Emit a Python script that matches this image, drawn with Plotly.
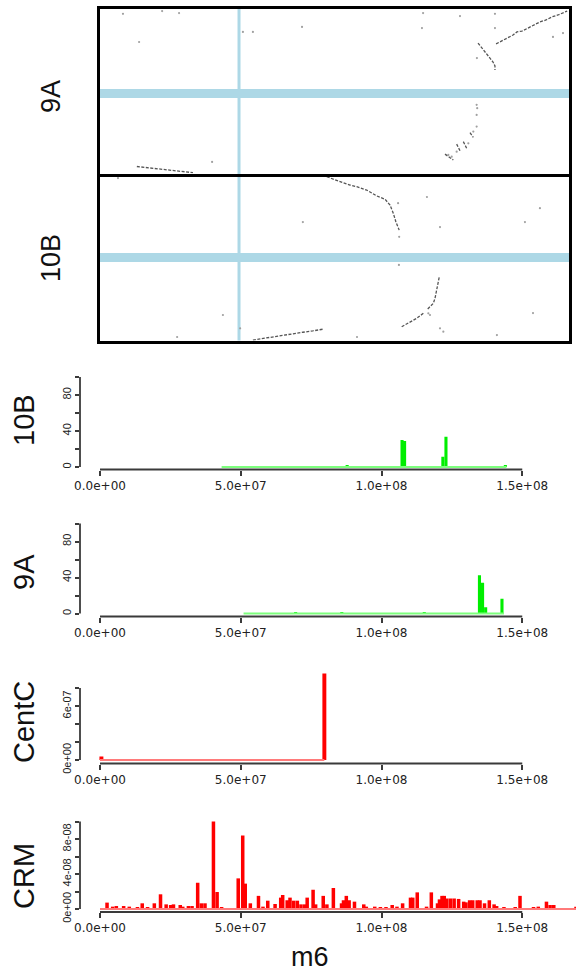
import plotly.graph_objects as go

W, H = 576, 974

# ---------------- dot plot data: m6 (x, Mb) vs 9A / 10B (y, Mb) ----------------
m6_cent_mb = 50.8
a9_cent_mb = 29.3
b10_cent_mb = 30.4

a9_seg1_x = [143.4, 145.5, 147.7, 149.5, 150.9, 152.7, 154.9, 157.1, 159.2, 161.4, 163.5, 165.7, 167.5, 169.0]
a9_seg1_y = [47.1, 48.1, 49.2, 50.3, 51.4, 51.7, 52.8, 53.9, 55.0, 55.7, 56.8, 57.5, 58.2, 58.9]
a9_seg2_x = [136.9, 138.0, 139.0, 140.1, 141.2, 142.3, 143.0, 143.0]
a9_seg2_y = [47.4, 46.0, 44.6, 43.1, 42.0, 40.6, 39.2, 37.7]
a9_seg3_x = [14.0, 16.9, 19.8, 22.7, 25.6, 28.5, 31.3, 34.2]
a9_seg3_y = [3.05, 2.7, 2.5, 2.2, 1.8, 1.4, 1.1, 0.83]
a9_strokes_x = [[125.0, 128.0], [129.2, 130.4], [131.6, 132.8], [134.0, 135.2]]
a9_strokes_y = [[7.5, 5.4], [11.1, 8.7], [12.0, 9.6], [15.2, 13.5]]
a9_dots_x = [136.4, 136.6, 136.4, 136.4, 135.2, 133.4, 129.2, 127.4, 126.2, 9.0, 23.1, 29.2, 14.8, 52.2,
             55.8, 73.5, 117.1, 116.7, 130.4, 143.0, 143.0, 136.5, 167.5, 163.9, 41.1]
a9_dots_y = [25.2, 24.0, 21.6, 17.4, 15.6, 11.4, 8.4, 6.6, 7.2, 57.9, 58.9, 58.2, 47.8, 51.4,
             51.4, 53.2, 58.2, 52.8, 57.1, 57.9, 52.8, 42.0, 51.0, 49.6, 4.7]

b10_seg1_x = [82.4, 85.4, 88.4, 90.8, 93.2, 96.8, 100.4, 103.4, 105.2, 106.4, 107.3, 108.5]
b10_seg1_y = [59.4, 58.2, 57.2, 56.4, 55.8, 54.6, 52.5, 51.3, 49.2, 46.2, 43.2, 40.2]
b10_seg2_x = [122.9, 122.6, 122.0, 121.4, 120.8, 119.6, 118.4]
b10_seg2_y = [23.2, 21.1, 18.7, 15.7, 13.9, 12.7, 11.5]
b10_seg3_x = [109.4, 111.2, 113.0, 114.8, 117.2]
b10_seg3_y = [5.5, 6.5, 7.3, 8.5, 10.3]
b10_seg4_x = [55.8, 59.4, 63.0, 66.6, 70.2, 73.8, 77.4, 81.0]
b10_seg4_y = [0.7, 1.3, 1.8, 2.4, 2.9, 3.5, 4.0, 4.6]
b10_dots_x = [108.5, 119.0, 119.6, 123.2, 124.4, 51.2, 7.2, 73.8, 118.5, 108.1, 123.2, 159.2, 153.8,
              108.4, 45.0, 28.5, 156.7, 143.7, 93.3]
b10_dots_y = [37.8, 10.3, 9.7, 4.9, 3.7, 4.9, 58.9, 43.1, 52.1, 49.9, 41.3, 48.1, 43.1,
              27.7, 9.7, 1.8, 10.4, 2.5, 1.8]

# ---------------- density tracks along m6 ----------------
x_tick_vals = [0, 5e7, 1e8, 1.5e8]
x_tick_text = ["0.0e+00", "5.0e+07", "1.0e+08", "1.5e+08"]

b10_span_mb = [43.2, 144.4]
b10_pos_mb = [87.8, 107.3, 108.2, 121.8, 122.9, 144.0]
b10_val = [1.5, 30, 29, 11.5, 33.7, 1.5]

a9_span_mb = [51.0, 143.5]
a9_pos_mb = [69.5, 85.9, 115.2, 134.8, 135.9, 137.0, 142.8]
a9_val = [1.5, 1.5, 1.5, 42.4, 34.1, 7.0, 16.3]

centc_span_mb = [0.0, 79.7]
centc_pos_mb = [0.5, 79.7]
centc_val = [4.0e-8, 9.6e-7]

crm_span_mb = [0.0, 170.0]
crm_pos_mb = [2.5, 4.5, 5.8, 8.4, 10.4, 13.3, 15.0, 16.9, 19.3, 21.5, 23.5, 25.1, 26.1, 28.5, 29.4, 31.4,
              32.7, 34.7, 36.0, 37.3, 40.3, 41.6, 43.2, 49.1, 50.7, 51.6, 53.4, 56.3, 57.9, 59.6, 62.2,
              64.2, 64.9, 66.5, 67.5, 68.8, 70.1, 71.4, 72.7, 73.6, 75.7, 76.6, 79.3, 80.6, 82.9, 85.8,
              86.5, 87.5, 88.5, 90.4, 93.7, 94.6, 97.6, 99.6, 101.6, 103.8, 105.5, 107.5, 110.3, 111.1,
              112.7, 116.0, 117.7, 119.9, 120.6, 121.5, 122.3, 123.2, 124.5, 125.8, 127.4, 129.2, 130.0,
              131.3, 132.4, 134.0, 135.0, 136.6, 138.3, 140.0, 140.9, 143.5, 147.5, 149.2, 154.0, 155.7,
              158.6, 159.9, 161.2, 169.1]
crm_val_e8 = [0.73, 0.27, 0.34, 0.34, 0.27, 0.19, 0.65, 0.19, 0.65, 1.68, 0.53, 0.46, 0.53, 0.46, 0.27, 0.34,
              0.34, 3.0, 0.65, 0.65, 10.0, 1.94, 0.19, 3.5, 8.4, 2.9, 0.65, 1.5, 0.27, 0.95, 0.57,
              1.3, 1.6, 1.0, 1.3, 0.95, 0.95, 0.53, 0.53, 1.3, 2.2, 0.53, 1.5, 0.53, 2.4, 0.65,
              1.0, 1.5, 1.0, 0.84, 0.53, 0.27, 0.27, 0.19, 0.19, 0.46, 0.27, 0.65, 1.3, 1.3,
              1.9, 0.27, 1.9, 0.65, 1.1, 1.5, 1.5, 1.2, 1.2, 1.2, 1.15, 0.84, 0.76,
              1.0, 1.0, 1.0, 1.0, 0.65, 1.0, 0.53, 0.34, 0.19, 0.19, 1.5, 0.19, 0.27,
              0.84, 0.46, 0.46, 0.27]


def fx(p):
    return p / W


def fy(p):
    return 1 - p / H


fig = go.Figure()

# ---- dot plot traces ----
seg_style = dict(mode="lines", line=dict(color="#555555", width=1.3, dash="3px,1.5px"), hoverinfo="skip")
dot_style = dict(mode="markers", marker=dict(color="#a0a0a0", size=2.2), hoverinfo="skip")

for sx, sy in [(a9_seg1_x, a9_seg1_y), (a9_seg2_x, a9_seg2_y), (a9_seg3_x, a9_seg3_y)] + list(zip(a9_strokes_x, a9_strokes_y)):
    fig.add_trace(go.Scatter(x=sx, y=sy, xaxis="x", yaxis="y", **seg_style))
fig.add_trace(go.Scatter(x=a9_dots_x, y=a9_dots_y, xaxis="x", yaxis="y", **dot_style))

for sx, sy in [(b10_seg1_x, b10_seg1_y), (b10_seg2_x, b10_seg2_y), (b10_seg3_x, b10_seg3_y), (b10_seg4_x, b10_seg4_y)]:
    fig.add_trace(go.Scatter(x=sx, y=sy, xaxis="x2", yaxis="y2", **seg_style))
fig.add_trace(go.Scatter(x=b10_dots_x, y=b10_dots_y, xaxis="x2", yaxis="y2", **dot_style))

# ---- track panels ----
tracks = [
    ("10B", b10_span_mb, b10_pos_mb, b10_val, 1.0, "#00ee00", "#7dff7d", 1.1e6),
    ("9A", a9_span_mb, a9_pos_mb, a9_val, 1.0, "#00ee00", "#7dff7d", 1.1e6),
    ("CentC", centc_span_mb, centc_pos_mb, centc_val, 1.0, "#ff0000", "#ff7a7a", 1.4e6),
    ("CRM", crm_span_mb, crm_pos_mb, crm_val_e8, 1e-8, "#ff0000", "#ff7a7a", 1.25e6),
]
# pixel geometry per panel: (y of value 0, px per unit, x-axis line px (= domain bottom), domain top px, title center px)
geom = [
    (467.0, 0.9, 469.5, 362, 420),
    (613.5, 0.9, 616.5, 508, 572),
    (760.0, 9e7, 763.5, 660, 722),
    (909.0, 8.75e8, 912.0, 812, 876),
]
ytick_sets = [
    ([0, 20, 40, 60, 80, 100], ["0", "", "40", "", "80", ""]),
    ([0, 20, 40, 60, 80, 100], ["0", "", "40", "", "80", ""]),
    ([0, 2e-7, 4e-7, 6e-7, 8e-7], ["0e+00", "", "", "6e-07", ""]),
    ([0, 2e-8, 4e-8, 6e-8, 8e-8, 1e-7], ["0e+00", "", "4e-08", "", "8e-08", ""]),
]

px_per_bp = 281.5e-8          # horizontal scale of the tracks
x0_px, yaxis_px = 100.0, 80.0  # pixel of position 0 and of the y-axis line
x_range = [-(x0_px - yaxis_px) / px_per_bp, (W - x0_px) / px_per_bp]
axis_col = "#3a3a3a"

layout_axes = {}
shapes = []
annotations = []

for i, ((name, span, pos, val, scale, col, lcol, bw), (y0, k, dbot, dtop, tpx), (tv, tt)) in enumerate(
        zip(tracks, geom, ytick_sets)):
    n = i + 3
    xa, ya = f"x{n}", f"y{n}"
    vals = [v * scale for v in val]
    fig.add_trace(go.Scatter(x=[span[0] * 1e6, span[1] * 1e6], y=[0, 0], mode="lines",
                             line=dict(color=lcol, width=2), xaxis=xa, yaxis=ya, hoverinfo="skip"))
    fig.add_trace(go.Bar(x=[p * 1e6 for p in pos], y=vals, width=bw, marker=dict(color=col, line=dict(width=0)),
                         xaxis=xa, yaxis=ya, hoverinfo="skip"))
    layout_axes[f"xaxis{n}"] = dict(
        domain=[fx(yaxis_px), 1.0], range=x_range, anchor=ya, side="bottom",
        tickvals=x_tick_vals, ticktext=x_tick_text, ticks="outside", ticklen=5, tickwidth=1.6,
        tickcolor=axis_col, showline=False, showgrid=False, zeroline=False, automargin=False,
        tickfont=dict(family="DejaVu Sans", size=12, color="#222"),
    )
    layout_axes[f"yaxis{n}"] = dict(
        domain=[fy(dbot), fy(dtop)], range=[(y0 - dbot) / k, (y0 - dtop) / k], anchor=xa, side="left",
        tickvals=tv, ticktext=tt, ticks="outside", ticklen=4, tickwidth=1.6, tickcolor=axis_col,
        tickangle=-90, showline=False, showgrid=False, zeroline=False, automargin=False,
        tickfont=dict(family="Liberation Sans", size=11, color="#222"),
    )
    shapes.append(dict(type="line", xref="paper", yref=ya, x0=fx(yaxis_px), x1=fx(yaxis_px), y0=tv[0], y1=tv[-1],
                       line=dict(color=axis_col, width=1.8)))
    shapes.append(dict(type="line", xref=xa, yref="paper", x0=x_tick_vals[0], x1=x_tick_vals[-1],
                       y0=fy(dbot), y1=fy(dbot), line=dict(color=axis_col, width=1.8)))
    annotations.append(dict(text=name, xref="paper", yref="paper", x=fx(24), y=fy(tpx), showarrow=False,
                            textangle=-90, xanchor="center", yanchor="middle",
                            font=dict(family="Liberation Sans", size=29, color="#111")))

# ---- dot plot axes ----
frame = dict(showline=True, mirror=True, linewidth=3, linecolor="black", showticklabels=False,
             ticks="", showgrid=False, zeroline=False, automargin=False)
layout_axes["xaxis"] = dict(domain=[fx(99.5), fx(569)], range=[0.54, 169.67], anchor="y", **frame)
layout_axes["yaxis"] = dict(domain=[fy(173.5), fy(9)], range=[0.54, 59.65], anchor="x", **frame)
layout_axes["xaxis2"] = dict(domain=[fx(99.5), fx(569)], range=[0.54, 169.67], anchor="y2", **frame)
layout_axes["yaxis2"] = dict(domain=[fy(340.5), fy(176.5)], range=[0.54, 59.47], anchor="x2", **frame)

blue = "#add8e6"
shapes.append(dict(type="line", xref="x", yref="paper", x0=m6_cent_mb, x1=m6_cent_mb, y0=fy(340.5), y1=fy(9),
                   line=dict(color=blue, width=3), layer="below"))
shapes.append(dict(type="line", xref="x", yref="y", x0=0.54, x1=169.67, y0=a9_cent_mb, y1=a9_cent_mb,
                   line=dict(color=blue, width=9), layer="below"))
shapes.append(dict(type="line", xref="x2", yref="y2", x0=0.54, x1=169.67, y0=b10_cent_mb, y1=b10_cent_mb,
                   line=dict(color=blue, width=9), layer="below"))

for txt, cx, cy, ang in [("9A", 51, 97, -90), ("10B", 51, 258, -90), ("m6", 310, 957, 0)]:
    annotations.append(dict(text=txt, xref="paper", yref="paper", x=fx(cx), y=fy(cy), showarrow=False,
                            textangle=ang, xanchor="center", yanchor="middle",
                            font=dict(family="Liberation Sans", size=27, color="#111")))

fig.update_layout(
    width=W, height=H, margin=dict(l=0, r=0, t=0, b=0, autoexpand=False),
    paper_bgcolor="white", plot_bgcolor="white", showlegend=False,
    shapes=shapes, annotations=annotations, **layout_axes,
)

fig.write_html("out.html", config={"displayModeBar": False},
               post_script="document.body.style.margin='0px';document.body.style.overflow='hidden';")
